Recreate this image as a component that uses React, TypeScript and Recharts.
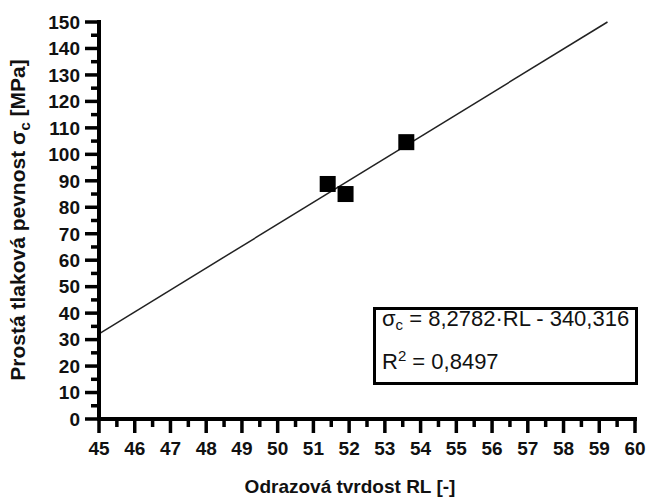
import React from "react";
import { ScatterChart, Scatter, XAxis, YAxis, ReferenceLine, Label } from "recharts";

// measured samples: rebound hardness vs. uniaxial compressive strength
const RL = [51.4, 51.9, 53.6];
const SIGMA_C = [88.8, 85.0, 104.6];

// linear fit reported in the legend box
const SLOPE = 8.2782;
const INTERCEPT = -340.316;
const R2 = 0.8497;

const X_LABELS = [45, 46, 47, 48, 49, 50, 51, 52, 53, 54, 55, 56, 57, 58, 59, 60];
const Y_LABELS = [0, 10, 20, 30, 40, 50, 60, 70, 80, 90, 100, 110, 120, 130, 140, 150];

// minor ticks sit halfway between labelled ones
const withMinor = (major: number[]) =>
  major.flatMap((v, i) => (i < major.length - 1 ? [v, (v + major[i + 1]) / 2] : [v]));

const X_TICKS = withMinor(X_LABELS);
const Y_TICKS = withMinor(Y_LABELS);

const points = RL.map((x, i) => ({ x, y: SIGMA_C[i] }));

const X_MIN = X_LABELS[0];
const Y_MAX = Y_LABELS[Y_LABELS.length - 1];
const fitStart = { x: X_MIN, y: SLOPE * X_MIN + INTERCEPT };
const fitEnd = { x: (Y_MAX - INTERCEPT) / SLOPE, y: Y_MAX };

const FONT = "'Liberation Sans', Arial, sans-serif";
const comma = (v: number) => String(v).replace(".", ",");

function XTick({ x, y, payload }: any) {
  const major = Number.isInteger(payload.value);
  return (
    <g>
      <line x1={x} x2={x} y1={y} y2={y + (major ? 14 : 8)} stroke="#000" strokeWidth={3.5} />
      {major && (
        <text x={x} y={y + 36} textAnchor="middle" fontFamily={FONT} fontWeight="bold" fontSize={19} fill="#111">
          {payload.value}
        </text>
      )}
    </g>
  );
}

function YTick({ x, y, payload }: any) {
  const major = payload.value % 10 === 0;
  return (
    <g>
      <line x1={x - (major ? 14 : 8)} x2={x} y1={y} y2={y} stroke="#000" strokeWidth={3.5} />
      {major && (
        <text x={x - 19} y={y + 6.8} textAnchor="end" fontFamily={FONT} fontWeight="bold" fontSize={19} fill="#111">
          {payload.value}
        </text>
      )}
    </g>
  );
}

const Square = ({ cx, cy }: any) => <rect x={cx - 8} y={cy - 8} width={16} height={16} fill="#000" />;

export default function App() {
  return (
    <div style={{ position: "absolute", left: 0, top: 0, width: 648, height: 498, background: "#fff" }}>
      <ScatterChart width={648} height={498} margin={{ top: 22, right: 13, bottom: 0, left: 0 }}>
        <XAxis
          type="number"
          dataKey="x"
          domain={[45, 60]}
          ticks={X_TICKS}
          interval={0}
          height={79}
          tickSize={0}
          tickMargin={0}
          tick={<XTick />}
          axisLine={{ stroke: "#000", strokeWidth: 4, strokeLinecap: "square" }}
        >
          <Label
            content={() => (
              <text x={350} y={493} textAnchor="middle" fontFamily={FONT} fontWeight="bold" fontSize={19} fill="#111">
                Odrazová tvrdost RL [-]
              </text>
            )}
          />
        </XAxis>
        <YAxis
          type="number"
          dataKey="y"
          domain={[0, 150]}
          ticks={Y_TICKS}
          interval={0}
          width={99}
          tickSize={0}
          tickMargin={0}
          tick={<YTick />}
          axisLine={{ stroke: "#000", strokeWidth: 4, strokeLinecap: "square" }}
        >
          <Label
            content={() => (
              <text
                x={25}
                y={220}
                transform="rotate(-90 25 220)"
                textAnchor="middle"
                fontFamily={FONT}
                fontWeight="bold"
                fontSize={21}
                fill="#111"
              >
                Prostá tlaková pevnost σ
                <tspan fontSize={15} dy={5}>c</tspan>
                <tspan dy={-5}> [MPa]</tspan>
              </text>
            )}
          />
        </YAxis>
        <ReferenceLine segment={[fitStart, fitEnd]} stroke="#222" strokeWidth={1.5} ifOverflow="visible" />
        <Scatter data={points} shape={<Square />} isAnimationActive={false} />
      </ScatterChart>
      <div
        style={{
          position: "absolute",
          left: 373,
          top: 307,
          width: 265,
          height: 78,
          boxSizing: "border-box",
          border: "3px solid #000",
          background: "#fff",
          fontFamily: FONT,
          fontSize: 22,
          color: "#111",
        }}
      >
        <div style={{ position: "absolute", left: 6, top: -4, whiteSpace: "nowrap", lineHeight: "26px" }}>
          σ<sub style={{ fontSize: 15, verticalAlign: "-4px" }}>c</sub> = {comma(SLOPE)}·RL - {comma(Math.abs(INTERCEPT))}
        </div>
        <div style={{ position: "absolute", left: 6, top: 33, whiteSpace: "nowrap", lineHeight: "26px" }}>
          R<sup style={{ fontSize: 15, verticalAlign: "8px" }}>2</sup> = {comma(R2)}
        </div>
      </div>
    </div>
  );
}
